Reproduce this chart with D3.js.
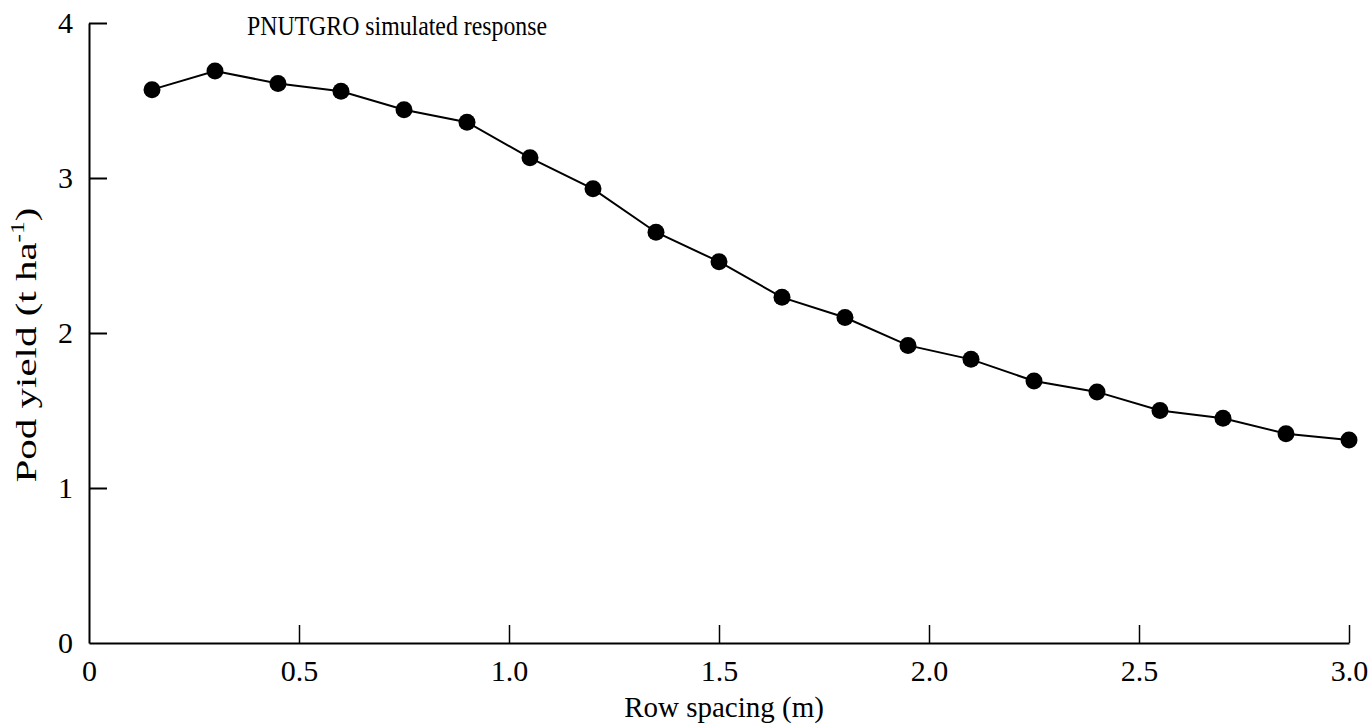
<!DOCTYPE html>
<html>
<head>
<meta charset="utf-8">
<script src="https://cdn.jsdelivr.net/npm/d3@7"></script>
<style>
  html, body { margin: 0; padding: 0; background: #fff; }
  svg text { font-family: "Liberation Serif", "DejaVu Serif", serif; fill: #000; }
</style>
</head>
<body>
<svg id="chart" width="1369" height="724"></svg>
<script>
// Data
const rowSpacing = [0.15, 0.30, 0.45, 0.60, 0.75, 0.90, 1.05, 1.20, 1.35, 1.50,
                    1.65, 1.80, 1.95, 2.10, 2.25, 2.40, 2.55, 2.70, 2.85, 3.00];
const podYield   = [3.57, 3.69, 3.61, 3.56, 3.44, 3.36, 3.13, 2.93, 2.65, 2.46,
                    2.23, 2.10, 1.92, 1.83, 1.69, 1.62, 1.50, 1.45, 1.35, 1.31];
const xTicks = [0, 0.5, 1.0, 1.5, 2.0, 2.5, 3.0];
const xTickLabels = ["0", "0.5", "1.0", "1.5", "2.0", "2.5", "3.0"];
const yTicks = [0, 1, 2, 3, 4];
const yTickLabels = ["0", "1", "2", "3", "4"];
const titleText = "PNUTGRO simulated response";
const xTitle = "Row spacing (m)";

const svg = d3.select("#chart");
const mLeft = 89, mRight = 1349, mTop = 23, mBottom = 643;

const x = d3.scaleLinear().domain([0, 3]).range([mLeft, mRight]);
const y = d3.scaleLinear().domain([0, 4]).range([mBottom, mTop]);

// X axis
const xAxis = d3.axisBottom(x)
  .tickValues(xTicks)
  .tickFormat((d, i) => xTickLabels[i])
  .tickSizeInner(-18).tickSizeOuter(0).tickPadding(17);
const gx = svg.append("g").attr("transform", `translate(0,${mBottom})`).call(xAxis);
gx.select(".domain").attr("stroke", "#000").attr("stroke-width", 2);
gx.selectAll(".tick line").attr("stroke", "#000").attr("stroke-width", 1.5);
gx.selectAll(".tick text").attr("font-size", 30).attr("font-family", "Liberation Serif");
gx.selectAll(".tick").filter(d => d === 0).select("line").remove();

// Y axis
const yAxis = d3.axisLeft(y)
  .tickValues(yTicks)
  .tickFormat((d, i) => yTickLabels[i])
  .tickSizeInner(-18).tickSizeOuter(0).tickPadding(16);
const gy = svg.append("g").attr("transform", `translate(${mLeft},0)`).call(yAxis);
gy.select(".domain").attr("stroke", "#000").attr("stroke-width", 2);
gy.selectAll(".tick line").attr("stroke", "#000").attr("stroke-width", 2);
gy.selectAll(".tick text").attr("font-size", 30).attr("font-family", "Liberation Serif");
gy.selectAll(".tick").filter(d => d === 0).select("line").remove();

// Line + markers
const pts = rowSpacing.map((v, i) => [v, podYield[i]]);
const line = d3.line().x(d => x(d[0])).y(d => y(d[1]));
svg.append("path").datum(pts)
  .attr("d", line).attr("fill", "none").attr("stroke", "#000").attr("stroke-width", 2);
svg.append("g").selectAll("circle").data(pts).join("circle")
  .attr("cx", d => x(d[0])).attr("cy", d => y(d[1])).attr("r", 8.5).attr("fill", "#000");

// Title inside plot
svg.append("text").attr("x", 247).attr("y", 35).attr("font-size", 27.5)
  .attr("textLength", 300).attr("lengthAdjust", "spacingAndGlyphs").text(titleText);

// X title
svg.append("text").attr("x", 724).attr("y", 717).attr("text-anchor", "middle")
  .attr("font-size", 29).text(xTitle);

// Y title
const yt = svg.append("text")
  .attr("transform", "translate(36,345) rotate(-90)")
  .attr("text-anchor", "middle").attr("font-size", 29)
  .attr("textLength", 275).attr("lengthAdjust", "spacingAndGlyphs");
yt.append("tspan").text("Pod yield (t ha");
yt.append("tspan").attr("font-size", 18).attr("dy", -12).text("-1");
yt.append("tspan").attr("dy", 12).text(")");
</script>
</body>
</html>
